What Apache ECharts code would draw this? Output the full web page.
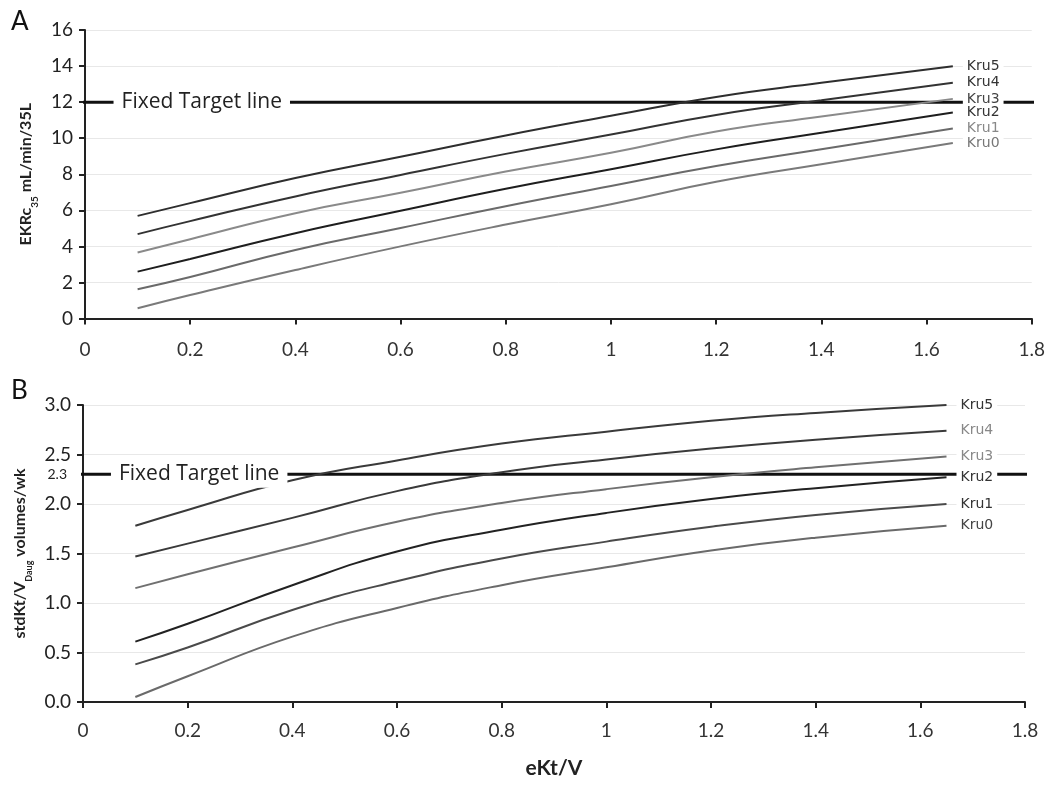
<!DOCTYPE html>
<html>
<head>
<meta charset="utf-8">
<script src="https://cdn.jsdelivr.net/npm/echarts@6/dist/echarts.min.js"></script>
<style>html,body{margin:0;padding:0;background:#fff}#c{width:1048px;height:785px}</style>
</head>
<body>
<div id="c"></div>
<script>
// ---- data ----
const xVals = [0.1, 0.2, 0.4, 0.6, 0.8, 1.0, 1.2, 1.4, 1.65];
const seriesNames = ['Kru5', 'Kru4', 'Kru3', 'Kru2', 'Kru1', 'Kru0'];

// Panel A: EKRc35 mL/min/35L
const aKru5 = [5.69, 6.40, 7.79, 8.97, 10.15, 11.24, 12.29, 13.07, 13.99];
const aKru4 = [4.68, 5.40, 6.77, 7.96, 9.13, 10.20, 11.29, 12.10, 13.07];
const aKru3 = [3.66, 4.40, 5.84, 6.97, 8.15, 9.19, 10.37, 11.20, 12.18];
const aKru2 = [2.60, 3.30, 4.73, 5.97, 7.19, 8.28, 9.38, 10.30, 11.43];
const aKru1 = [1.62, 2.30, 3.80, 5.02, 6.23, 7.35, 8.46, 9.39, 10.54];
const aKru0 = [0.57, 1.30, 2.69, 4.00, 5.21, 6.34, 7.58, 8.55, 9.73];
const aTarget = 12;

// Panel B: stdKt/V volumes/wk
const bKru5 = [1.78, 1.94, 2.24, 2.44, 2.61, 2.73, 2.84, 2.92, 3.00];
const bKru4 = [1.47, 1.60, 1.86, 2.13, 2.32, 2.45, 2.56, 2.65, 2.74];
const bKru3 = [1.15, 1.29, 1.56, 1.82, 2.01, 2.15, 2.27, 2.37, 2.48];
const bKru2 = [0.61, 0.79, 1.18, 1.52, 1.74, 1.91, 2.05, 2.16, 2.27];
const bKru1 = [0.38, 0.55, 0.93, 1.22, 1.45, 1.62, 1.77, 1.89, 2.00];
const bKru0 = [0.05, 0.26, 0.66, 0.95, 1.18, 1.36, 1.53, 1.66, 1.78];
const bTarget = 2.3;

const targetX = [-0.02, 1.815];
const xTicks = ['0', '0.2', '0.4', '0.6', '0.8', '1', '1.2', '1.4', '1.6', '1.8'];

// ---- styling ----
const aColors = ['#2e2e2e', '#333333', '#8a8a8a', '#1e1e1e', '#6a6a6a', '#7a7a7a'];
const aLabelColors = ['#333', '#333', '#444', '#333', '#888', '#777'];
const bColors = ['#3a3a3a', '#3a3a3a', '#707070', '#222222', '#4a4a4a', '#6a6a6a'];
const bLabelColors = ['#333', '#888', '#888', '#333', '#333', '#444'];
const FONT = 'Lato, "Open Sans", sans-serif';

const pair = (ys) => xVals.map((x, i) => [x, ys[i]]);

function kruSeries(dataArr, gi, colors, labelColors) {
  return dataArr.map((ys, i) => ({
    name: seriesNames[i],
    type: 'line',
    xAxisIndex: gi, yAxisIndex: gi,
    data: pair(ys),
    smooth: true,
    symbol: 'none',
    silent: true,
    lineStyle: {color: colors[i], width: 2},
    endLabel: {
      show: true,
      formatter: seriesNames[i],
      distance: 10,
      color: labelColors[i],
      fontFamily: '"DejaVu Sans"',
      fontSize: 14,
      backgroundColor: '#fff',
      padding: [0, 4, 0, 4]
    }
  }));
}

function targetSeries(gi, val, extraLabel) {
  const mp = [{
    coord: [0.222, val],
    symbol: 'rect', symbolSize: 0,
    label: {
      show: true, position: 'inside', formatter: 'Fixed Target line',
      color: '#222', fontFamily: '"Open Sans", sans-serif', fontSize: 21,
      backgroundColor: '#fff', padding: [3, 8, 3, 8]
    }
  }];
  if (extraLabel) {
    mp.push({
      coord: [0, val],
      symbol: 'rect', symbolSize: 0,
      label: {
        show: true, position: 'left', distance: 16, formatter: extraLabel,
        color: '#222', fontFamily: FONT, fontSize: 14
      }
    });
  }
  return {
    name: 'target' + gi,
    type: 'line',
    xAxisIndex: gi, yAxisIndex: gi,
    data: targetX.map(x => [x, val]),
    clip: false,
    symbol: 'none',
    silent: true,
    lineStyle: {color: '#111', width: 3},
    markPoint: {silent: true, data: mp}
  };
}

const xAxisBase = (gi, margin, name) => ({
  gridIndex: gi, type: 'value', min: 0, max: 1.8, interval: 0.2,
  axisLine: {show: true, lineStyle: {color: '#222', width: 2}},
  axisTick: {show: true, length: 6, lineStyle: {color: '#222', width: 2}},
  splitLine: {show: false},
  axisLabel: {
    color: '#333', fontFamily: FONT, fontSize: 19, margin: margin,
    formatter: (v) => xTicks[Math.round(v / 0.2)]
  },
  name: name || '',
  nameLocation: 'middle', nameGap: 56,
  nameTextStyle: {fontFamily: FONT, fontWeight: 'bold', fontSize: 21, color: '#222'}
});

const chart = echarts.init(document.getElementById('c'));
chart.setOption({
  animation: false,
  backgroundColor: '#fff',
  grid: [
    {left: 85, right: 16, top: 30, height: 288.5},
    {left: 83, right: 23, top: 405, height: 297}
  ],
  xAxis: [xAxisBase(0, 22), xAxisBase(1, 19, 'eKt/V')],
  yAxis: [
    {
      gridIndex: 0, type: 'value', min: 0, max: 16, interval: 2,
      axisLine: {show: true, lineStyle: {color: '#222', width: 2}},
      axisTick: {show: true, length: 6, lineStyle: {color: '#222', width: 2}},
      splitLine: {show: true, lineStyle: {color: '#e8e8e8', width: 1}},
      axisLabel: {color: '#222', fontFamily: FONT, fontSize: 19, margin: 12},
      name: '{b|EKRc}{s|35}{b| mL/min/35L}',
      nameLocation: 'middle', nameGap: 40,
      nameTextStyle: {
        rich: {
          b: {fontFamily: FONT, fontWeight: 'bold', fontSize: 16, color: '#222'},
          s: {fontFamily: FONT, fontWeight: 'bold', fontSize: 10, color: '#222', verticalAlign: 'bottom', padding: [0, 0, -6, 0]}
        }
      }
    },
    {
      gridIndex: 1, type: 'value', min: 0, max: 3, interval: 0.5,
      axisLine: {show: true, lineStyle: {color: '#222', width: 2}},
      axisTick: {show: true, length: 6, lineStyle: {color: '#222', width: 2}},
      splitLine: {show: true, lineStyle: {color: '#e8e8e8', width: 1}},
      axisLabel: {color: '#222', fontFamily: FONT, fontSize: 19, margin: 12, formatter: (v) => v.toFixed(1)},
      name: '{b|stdKt/V}{s|Daug}{b| volumes/wk}',
      nameLocation: 'middle', nameGap: 47,
      nameTextStyle: {
        rich: {
          b: {fontFamily: FONT, fontWeight: 'bold', fontSize: 16, color: '#222'},
          s: {fontFamily: FONT, fontWeight: 'bold', fontSize: 9, color: '#222', verticalAlign: 'bottom', padding: [0, 0, -6, 0]}
        }
      }
    }
  ],
  graphic: [
    {type: 'text', left: 11, top: 9, style: {text: 'A', fontFamily: FONT, fontSize: 26, fill: '#111'}},
    {type: 'text', left: 11, top: 378, style: {text: 'B', fontFamily: FONT, fontSize: 26, fill: '#111'}}
  ],
  series: [
    targetSeries(0, aTarget, null),
    ...kruSeries([aKru5, aKru4, aKru3, aKru2, aKru1, aKru0], 0, aColors, aLabelColors),
    targetSeries(1, bTarget, '2.3'),
    ...kruSeries([bKru5, bKru4, bKru3, bKru2, bKru1, bKru0], 1, bColors, bLabelColors)
  ]
});
</script>
</body>
</html>
